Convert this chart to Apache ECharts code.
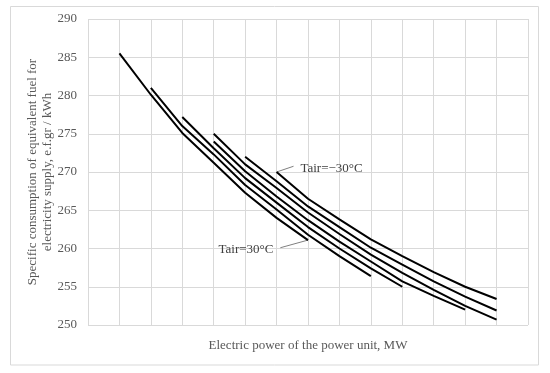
<!DOCTYPE html>
<html>
<head>
<meta charset="utf-8">
<script src="https://cdn.jsdelivr.net/npm/echarts@6/dist/echarts.min.js"></script>
<style>
html,body{margin:0;padding:0;background:#fff;}
#chart{width:550px;height:373px;}
</style>
</head>
<body>
<div id="chart"></div>
<script>
// x positions are steps of the (unlabelled) power axis
const xSteps = [0, 14];
const yTicks = [250, 290, 5];
// each curve: first step index and values at successive steps
const curveTop  = {start: 6, values: [270.0, 266.5, 263.8, 261.2, 259.0, 256.9, 255.0, 253.4]};
const curve2    = {start: 5, values: [272.0, 268.8, 265.5, 262.8, 260.1, 257.9, 255.7, 253.7, 251.9]};
const curve3    = {start: 4, values: [275.0, 271.0, 267.9, 264.7, 261.9, 259.2, 256.8, 254.6, 252.5, 250.7]};
const curve4    = {start: 4, values: [274.0, 270.1, 266.8, 263.7, 260.9, 258.3, 255.7, 253.8, 252.0]};
const curve5    = {start: 3, values: [277.2, 273.1, 269.2, 266.0, 262.8, 260.0, 257.4, 255.0]};
const curve6    = {start: 2, values: [281.0, 276.0, 272.3, 268.3, 265.1, 261.8, 259.0, 256.4]};
const curveLow  = {start: 1, values: [285.5, 280.1, 275.1, 271.2, 267.3, 264.0, 261.1]};
const curves = [curveTop, curve2, curve3, curve4, curve5, curve6, curveLow];

const labelTop = 'Tair=\u221230\u00b0C';
const labelLow = 'Tair=30\u00b0C';
// annotation anchors in data coordinates
const annTop = {from: [6, 270.0], to: [6.54, 270.75], text: [6.76, 270.5]};
const annLow = {from: [7, 261.1], to: [6.12, 260.1], text: [5.9, 259.9]};

const serif = "'Liberation Serif', 'Times New Roman', serif";

const chart = echarts.init(document.getElementById('chart'), null, {renderer: 'canvas'});

const series = curves.map(c => ({
  type: 'line',
  data: c.values.map((v, k) => [c.start + k, v]),
  showSymbol: false,
  symbol: 'none',
  smooth: false,
  lineStyle: {color: '#000', width: 2},
  silent: true,
  animation: false
}));

chart.setOption({
  animation: false,
  grid: {left: 88, right: 22, top: 19, bottom: 48, containLabel: false},
  xAxis: {
    type: 'value', min: xSteps[0], max: xSteps[1], interval: 1,
    axisLine: {show: false}, axisTick: {show: false}, axisLabel: {show: false},
    splitLine: {show: true, lineStyle: {color: '#d9d9d9', width: 1}},
    name: 'Electric power of the power unit, MW',
    nameLocation: 'middle', nameGap: 14,
    nameTextStyle: {fontFamily: serif, fontSize: 13, color: '#595959'}
  },
  yAxis: {
    type: 'value', min: yTicks[0], max: yTicks[1], interval: yTicks[2],
    axisLine: {show: false}, axisTick: {show: false},
    axisLabel: {fontFamily: serif, fontSize: 13, color: '#595959', margin: 11},
    splitLine: {show: true, lineStyle: {color: '#d9d9d9', width: 1}}
  },
  series: series
});

function px(p) { return chart.convertToPixel({gridIndex: 0}, p); }
const aTf = px(annTop.from), aTt = px(annTop.to), aTx = px(annTop.text);
const aLf = px(annLow.from), aLt = px(annLow.to), aLx = px(annLow.text);
const gridRect = chart.getModel().getComponent('grid').coordinateSystem.getRect();

chart.setOption({
  graphic: [
    {type: 'rect', shape: {x: 10.5, y: 6.5, width: 528, height: 358.5},
     style: {fill: 'none', stroke: '#d9d9d9', lineWidth: 1}, silent: true},
    {type: 'text', x: 40.5, y: gridRect.y + gridRect.height / 2, rotation: Math.PI / 2,
     style: {text: 'Specific consumption of equivalent fuel for\nelectricity supply, e.f.gr / kWh',
             font: '13px ' + serif, fill: '#595959', align: 'center', verticalAlign: 'middle', lineHeight: 15}},
    {type: 'line', shape: {x1: aTf[0], y1: aTf[1], x2: aTt[0], y2: aTt[1]},
     style: {stroke: '#7f7f7f', lineWidth: 1}},
    {type: 'text', x: aTx[0], y: aTx[1],
     style: {text: labelTop, font: '13px ' + serif, fill: '#404040', align: 'left', verticalAlign: 'middle'}},
    {type: 'line', shape: {x1: aLf[0], y1: aLf[1], x2: aLt[0], y2: aLt[1]},
     style: {stroke: '#7f7f7f', lineWidth: 1}},
    {type: 'text', x: aLx[0], y: aLx[1],
     style: {text: labelLow, font: '13px ' + serif, fill: '#404040', align: 'right', verticalAlign: 'middle'}}
  ]
});
</script>
</body>
</html>
